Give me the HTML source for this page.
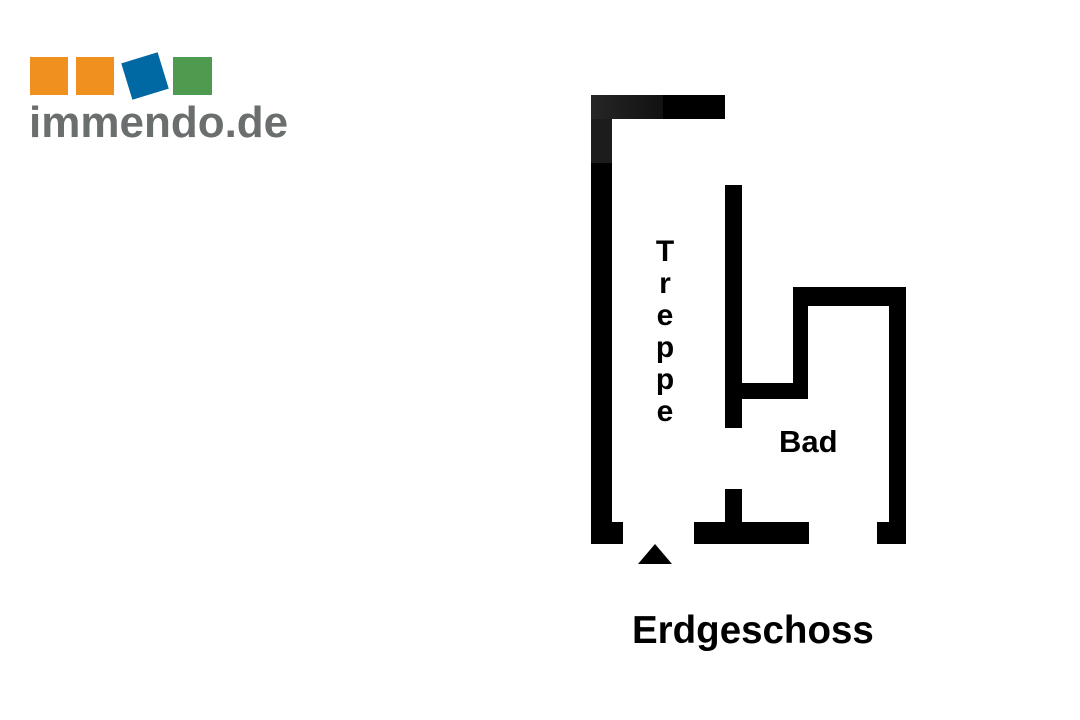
<!DOCTYPE html>
<html><head><meta charset="utf-8"><style>
body{margin:0;width:1080px;height:720px;background:#fff;position:relative;overflow:hidden;font-family:"Liberation Sans",Arial,sans-serif}
.b{position:absolute;background:#000}
.t{position:absolute;font-weight:bold;color:#000;white-space:nowrap}
</style></head><body>
<div style="position:absolute;left:30px;top:57px;width:38px;height:38px;background:#f0901e"></div>
<div style="position:absolute;left:76px;top:57px;width:38px;height:38px;background:#f0901e"></div>
<div style="position:absolute;left:126px;top:57px;width:38px;height:38px;background:#0068a3;transform:rotate(-17deg)"></div>
<div style="position:absolute;left:173px;top:57px;width:39px;height:38px;background:#4e9a4f"></div>
<div class="t" style="left:29px;top:98px;font-size:44px;color:#6b6e6e;letter-spacing:0px">immendo.de</div>

<div class="b" style="left:591px;top:95px;width:134px;height:24px"></div>
<div class="b" style="left:591px;top:95px;width:21px;height:68px;background:#1a1a1a"></div>
<div class="b" style="left:591px;top:95px;width:72px;height:24px;background:linear-gradient(90deg,#262626,#111)"></div>
<div class="b" style="left:591px;top:119px;width:21px;height:425px"></div>
<div class="b" style="left:591px;top:119px;width:21px;height:44px;background:#1c1c1c"></div>
<div class="b" style="left:612px;top:522px;width:11px;height:22px"></div>
<div class="b" style="left:725px;top:185px;width:17px;height:243px"></div>
<div class="b" style="left:725px;top:383px;width:83px;height:16px"></div>
<div class="b" style="left:793px;top:287px;width:15px;height:112px"></div>
<div class="b" style="left:793px;top:287px;width:113px;height:19px"></div>
<div class="b" style="left:889px;top:287px;width:17px;height:257px"></div>
<div class="b" style="left:877px;top:522px;width:29px;height:22px"></div>
<div class="b" style="left:694px;top:522px;width:115px;height:22px"></div>
<div class="b" style="left:725px;top:489px;width:17px;height:34px"></div>
<div style="position:absolute;left:638px;top:544px;width:0;height:0;border-left:17px solid transparent;border-right:17px solid transparent;border-bottom:20px solid #000"></div>

<div class="t" style="left:645px;top:236px;width:40px;text-align:center;font-size:30px;line-height:32px">T<br>r<br>e<br>p<br>p<br>e</div>
<div class="t" style="left:779px;top:424px;font-size:31px">Bad</div>
<div class="t" style="left:632px;top:609px;font-size:38.5px">Erdgeschoss</div>
</body></html>
